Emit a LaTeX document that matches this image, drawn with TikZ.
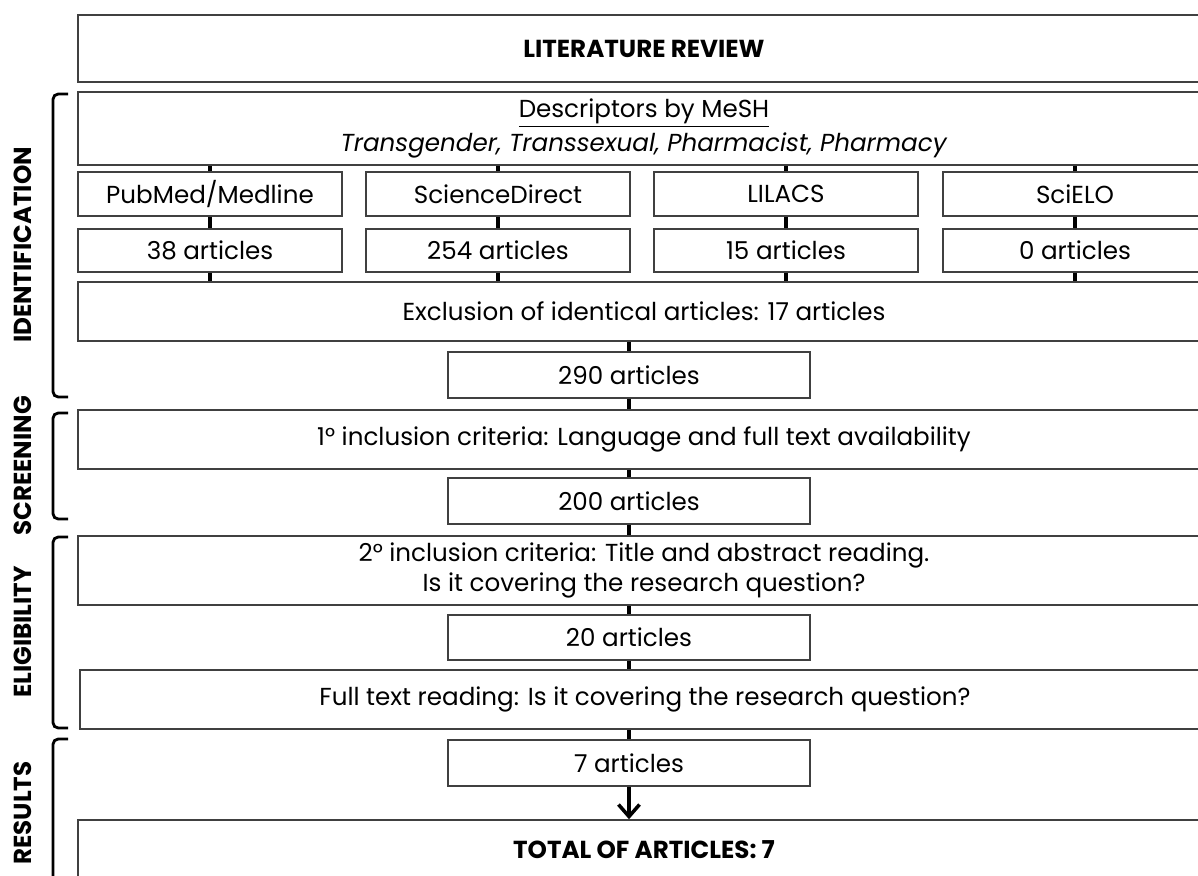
\documentclass[tikz,border=0pt]{standalone}
\usepackage{fontspec}
\setmainfont{Poppins}
\usetikzlibrary{positioning, arrows.meta}

\tikzset{
  box/.style={draw=black!75, line width=0.9pt, inner sep=0pt, align=center,
    minimum height=0.88cm, font=\fontsize{14}{19}\selectfont},
  srcbox/.style={box, minimum width=5.28cm},
  midbox/.style={box, minimum width=7.24cm, minimum height=0.92cm},
  widebox/.style={box, minimum width=22.64cm},
  headbox/.style={widebox, font=\bfseries\fontsize{14}{16}\selectfont},
  link/.style={line width=2.2pt},
  brace/.style={line width=1.6pt, rounded corners=3pt},
  phase/.style={rotate=90, font=\bfseries\fontsize{14}{16}\selectfont}
}

\begin{document}
\begin{tikzpicture}[x=0.02cm, y=-0.02cm]
\useasboundingbox (0,0) rectangle (1198,876);
\clip (0,0) rectangle (1198,876);

\node[headbox, minimum height=1.34cm] (lit) at (644,48.5) {LITERATURE REVIEW};
\node[widebox, minimum height=1.46cm] (desc) at (644,128.5)
  {\underline{Descriptors by MeSH}\\ \textit{Transgender, Transsexual, Pharmacist, Pharmacy}};
\node[widebox, minimum height=1.18cm] (excl) at (644,311.5) {Exclusion of identical articles: 17 articles};

% databases and their counts
\foreach \i/\db/\n/\cx in {1/{PubMed/Medline}/38/210, 2/ScienceDirect/254/498,
                          3/LILACS/15/786, 4/SciELO/0/1075} {
  \node[srcbox] (src\i) at (\cx,194) {\db};
  \node[srcbox, minimum height=0.86cm] (num\i) at (\cx,250.5) {\n\ articles};
  \draw[link] (src\i.north) -- (src\i.north |- desc.south);
  \draw[link] (src\i.south) -- (num\i.north);
  \draw[link] (num\i.south) -- (num\i.south |- excl.north);
}

\node[midbox] (a290) at (629,375) {290 articles};
\node[widebox, minimum height=1.18cm] (inc1) at (644,439.5) {1° inclusion criteria: Language and full text availability};
\node[midbox] (a200) at (629,501) {200 articles};
\node[widebox, minimum height=1.38cm, font=\fontsize{14}{17}\selectfont] (inc2) at (644,570.5)
  {2° inclusion criteria: Title and abstract reading.\\ Is it covering the research question?};
\node[midbox, minimum height=0.9cm] (a20) at (629,637.5) {20 articles};
\node[widebox, minimum width=22.6cm, minimum height=1.18cm] (full) at (645,699.5) {Full text reading: Is it covering the research question?};
\node[midbox] (a7) at (629,763) {7 articles};
\node[headbox, minimum height=1.2cm] (total) at (644,850) {TOTAL OF ARTICLES: 7};

\draw[link] (a290.north) -- (a290.north |- excl.south);
\draw[link] (a290.south) -- (a290.south |- inc1.north);
\draw[link] (a200.north) -- (a200.north |- inc1.south);
\draw[link] (a200.south) -- (a200.south |- inc2.north);
\draw[link] (a20.north) -- (a20.north |- inc2.south);
\draw[link] (a20.south) -- (a20.south |- full.north);
\draw[link] (a7.north) -- (a7.north |- full.south);
\draw[line width=2pt, -{Straight Barb[length=0.24cm, width=0.42cm]}] (a7.south) -- (a7.south |- total.north);

% phase brackets on the left
\foreach \top/\bot/\mid/\txt in {94/397/245/IDENTIFICATION, 413/519/466/SCREENING,
                                 537/728/632/ELIGIBILITY, 739/900/813/RESULTS} {
  \draw[brace] (68,\top) -- (53,\top) -- (53,\bot) -- (68,\bot);
  \node[phase] (lab\txt) at (23,\mid) {\txt};
}
\end{tikzpicture}
\end{document}
